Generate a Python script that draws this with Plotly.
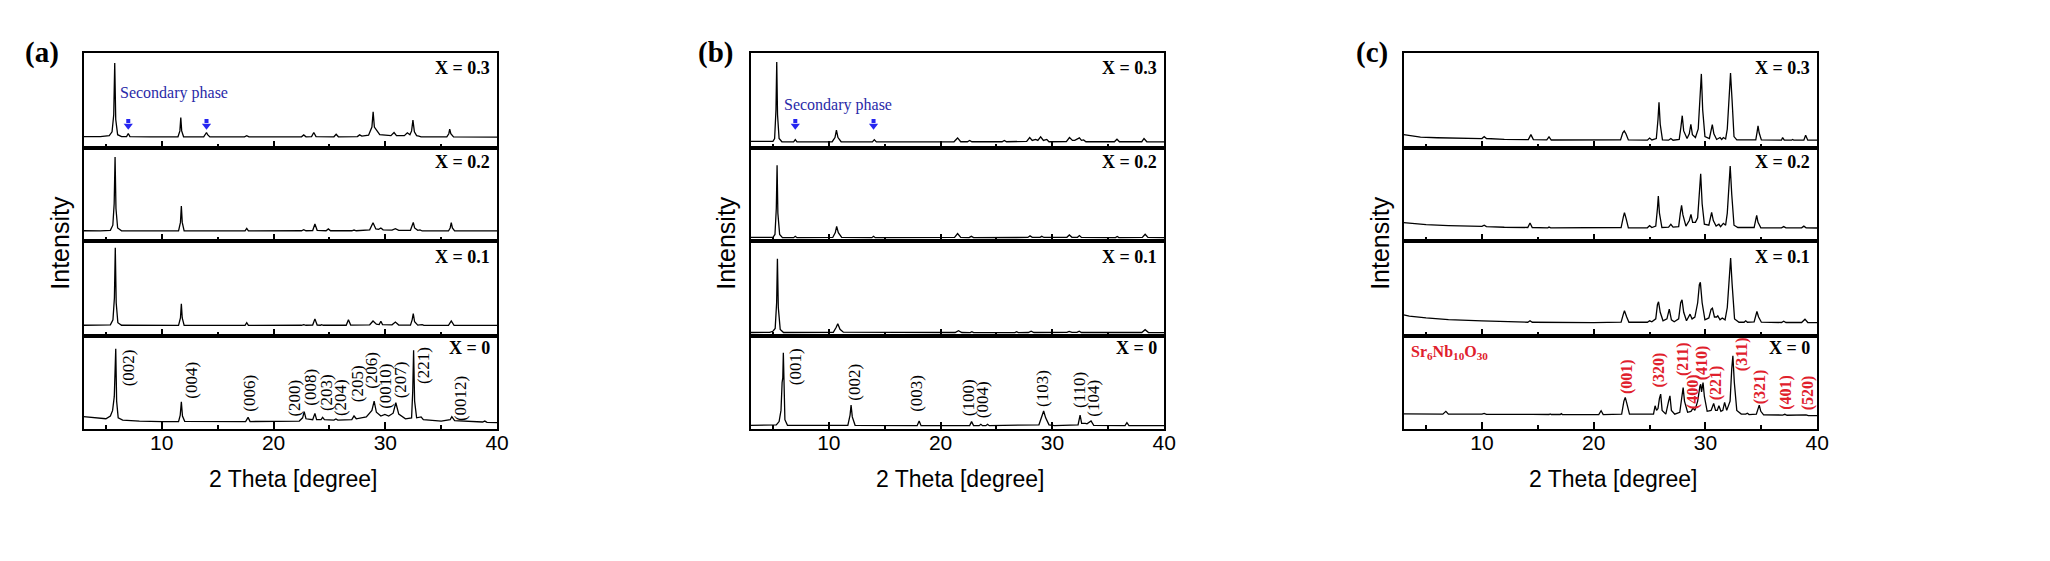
import plotly.graph_objects as go

# ---------------- data: (2 theta [deg], intensity normalised to its strip) ----------------
# panel (a)
a_x03 = [(3.0,0.12),(4.5,0.12),(5.3,0.13),(5.55,0.17),(5.7,0.35),(5.79,0.894),(5.88,0.3),(6.05,0.14),
         (6.4,0.12),(6.85,0.12),(7.0,0.152),(7.15,0.12),(9.0,0.117),(11.45,0.118),(11.62,0.18),(11.7,0.32),
         (11.78,0.18),(11.95,0.118),(13.75,0.117),(13.92,0.14),(14.0,0.163),(14.1,0.14),(14.3,0.117),
         (17.4,0.117),(17.6,0.13),(17.8,0.117),(22.5,0.118),(22.7,0.138),(22.9,0.118),(23.4,0.12),
         (23.6,0.163),(23.8,0.12),(25.4,0.118),(25.6,0.145),(25.8,0.118),(27.5,0.12),(27.7,0.138),
         (27.9,0.125),(28.5,0.135),(28.8,0.22),(28.91,0.38),(29.02,0.22),(29.3,0.17),(29.5,0.14),
         (30.5,0.13),(30.78,0.163),(31.0,0.13),(31.7,0.13),(31.97,0.16),(32.2,0.14),(32.35,0.18),
         (32.47,0.293),(32.6,0.17),(32.8,0.13),(33.0,0.125),(33.2,0.118),(35.5,0.117),(35.68,0.15),
         (35.76,0.198),(35.86,0.15),(36.1,0.117),(40.0,0.115)]
a_x02 = [(3.0,0.11),(4.5,0.108),(5.4,0.115),(5.62,0.17),(5.74,0.4),(5.82,0.903),(5.9,0.35),(6.05,0.14),
         (6.4,0.11),(11.5,0.108),(11.67,0.2),(11.75,0.376),(11.83,0.2),(12.0,0.108),(17.45,0.108),
         (17.6,0.136),(17.75,0.108),(22.5,0.11),(22.7,0.122),(22.9,0.11),(23.5,0.112),(23.7,0.183),
         (23.9,0.115),(24.7,0.11),(24.9,0.13),(25.1,0.11),(27.0,0.11),(27.2,0.118),(27.4,0.11),
         (28.6,0.12),(28.9,0.197),(29.15,0.13),(29.4,0.125),(29.6,0.14),(29.8,0.12),(30.6,0.118),
         (30.9,0.133),(31.2,0.115),(32.25,0.115),(32.4,0.16),(32.5,0.2),(32.62,0.14),(32.9,0.115),
         (33.1,0.12),(33.3,0.108),(35.65,0.108),(35.8,0.14),(35.9,0.197),(36.0,0.14),(36.2,0.108),
         (40.0,0.108)]
a_x01 = [(3.0,0.113),(4.5,0.112),(5.4,0.118),(5.63,0.17),(5.76,0.4),(5.84,0.93),(5.92,0.35),(6.07,0.14),
         (6.4,0.113),(11.5,0.112),(11.67,0.19),(11.75,0.34),(11.83,0.19),(12.0,0.112),(17.45,0.112),
         (17.6,0.14),(17.75,0.112),(22.5,0.113),(22.7,0.12),(22.9,0.113),(23.5,0.115),(23.7,0.18),
         (23.9,0.115),(24.2,0.113),(24.3,0.12),(24.45,0.113),(26.5,0.113),(26.7,0.17),(26.9,0.115),
         (28.6,0.118),(28.9,0.158),(29.2,0.125),(29.45,0.12),(29.6,0.155),(29.75,0.12),(30.6,0.118),
         (30.9,0.147),(31.2,0.115),(32.25,0.115),(32.4,0.17),(32.5,0.235),(32.62,0.15),(32.9,0.115),
         (33.3,0.12),(33.45,0.112),(35.65,0.112),(35.9,0.158),(36.15,0.112),(40.0,0.112)]
a_x00 = [(3.0,0.132),(4.0,0.12),(5.0,0.11),(5.4,0.14),(5.6,0.2),(5.75,0.35),(5.88,0.864),(5.96,0.3),
         (6.1,0.12),(6.5,0.095),(8.0,0.085),(10.0,0.08),(11.5,0.08),(11.65,0.15),(11.75,0.293),
         (11.85,0.14),(12.05,0.082),(17.5,0.08),(17.72,0.125),(17.9,0.08),(22.3,0.085),(22.6,0.12),
         (22.74,0.186),(22.9,0.11),(23.5,0.1),(23.7,0.168),(23.85,0.1),(24.25,0.1),(24.39,0.125),
         (24.55,0.1),(25.4,0.095),(25.58,0.107),(25.75,0.095),(27.0,0.1),(27.2,0.14),(27.4,0.11),
         (28.3,0.13),(28.8,0.2),(29.0,0.3),(29.2,0.18),(29.6,0.14),(29.96,0.157),(30.3,0.14),
         (30.7,0.17),(30.94,0.282),(31.2,0.16),(31.8,0.11),(32.35,0.12),(32.45,0.4),(32.53,0.846),
         (32.62,0.3),(32.8,0.12),(33.2,0.13),(33.4,0.1),(35.0,0.085),(35.8,0.1),(35.95,0.132),
         (36.2,0.09),(38.7,0.075),(38.9,0.085),(39.1,0.072),(40.0,0.068)]
# panel (b)
b_x03 = [(3.0,0.07),(4.5,0.066),(5.0,0.07),(5.15,0.1),(5.27,0.4),(5.34,0.905),(5.41,0.35),(5.55,0.1),
         (5.8,0.066),(6.85,0.064),(7.0,0.088),(7.15,0.064),(10.3,0.066),(10.55,0.11),(10.68,0.187),
         (10.82,0.11),(11.1,0.066),(13.9,0.064),(14.07,0.088),(14.25,0.064),(21.2,0.066),(21.52,0.106),
         (21.8,0.066),(22.4,0.066),(22.6,0.08),(22.8,0.066),(25.5,0.066),(25.7,0.08),(25.9,0.066),
         (27.7,0.07),(27.97,0.11),(28.2,0.08),(28.5,0.09),(28.7,0.08),(28.95,0.117),(29.2,0.08),
         (29.5,0.09),(29.7,0.066),(31.25,0.068),(31.53,0.11),(31.8,0.08),(32.0,0.08),(32.42,0.106),
         (32.6,0.08),(32.8,0.085),(33.0,0.066),(35.55,0.066),(35.78,0.092),(36.0,0.066),(38.0,0.066),
         (38.2,0.1),(38.45,0.066),(40.0,0.064)]
b_x02 = [(3.0,0.038),(5.0,0.04),(5.18,0.07),(5.3,0.35),(5.37,0.814),(5.44,0.3),(5.6,0.07),(5.85,0.036),
         (6.85,0.036),(7.0,0.05),(7.15,0.036),(10.35,0.038),(10.58,0.09),(10.7,0.158),(10.85,0.09),
         (11.15,0.038),(13.85,0.036),(14.0,0.05),(14.15,0.036),(21.25,0.038),(21.52,0.079),(21.8,0.038),
         (22.55,0.036),(22.75,0.05),(22.95,0.036),(27.8,0.038),(28.0,0.055),(28.2,0.04),(28.9,0.04),
         (29.05,0.05),(29.25,0.038),(31.3,0.04),(31.52,0.065),(31.75,0.04),(32.25,0.04),(32.42,0.058),
         (32.6,0.038),(35.65,0.036),(35.8,0.048),(35.95,0.036),(38.05,0.038),(38.3,0.072),(38.55,0.038),
         (40.0,0.036)]
b_x01 = [(3.0,0.037),(4.7,0.038),(5.0,0.05),(5.2,0.08),(5.33,0.35),(5.4,0.814),(5.48,0.3),(5.65,0.07),
         (5.95,0.037),(10.4,0.038),(10.65,0.09),(10.8,0.13),(11.0,0.07),(11.3,0.04),(21.3,0.037),
         (21.6,0.056),(21.9,0.037),(22.65,0.035),(22.8,0.045),(22.95,0.035),(26.65,0.035),(26.8,0.045),
         (26.95,0.035),(27.85,0.037),(28.1,0.05),(28.35,0.037),(31.3,0.038),(31.5,0.048),(31.75,0.038),
         (32.2,0.038),(32.4,0.05),(32.6,0.037),(38.0,0.037),(38.3,0.067),(38.6,0.037),(40.0,0.035)]
b_x00 = [(3.0,0.04),(4.5,0.04),(5.3,0.045),(5.55,0.08),(5.72,0.2),(5.82,0.5),(5.88,0.55),(5.93,0.82),
         (5.98,0.5),(6.07,0.1),(6.3,0.04),(11.7,0.04),(11.9,0.15),(11.99,0.257),(12.1,0.13),(12.35,0.04),
         (17.9,0.036),(18.08,0.086),(18.25,0.036),(22.6,0.036),(22.77,0.079),(22.95,0.036),(23.45,0.036),
         (23.6,0.05),(23.75,0.036),(24.05,0.036),(24.2,0.05),(24.35,0.036),(28.8,0.045),(29.05,0.13),
         (29.22,0.193),(29.4,0.12),(29.7,0.045),(30.2,0.036),(32.3,0.045),(32.48,0.15),(32.62,0.06),
         (32.95,0.06),(33.1,0.055),(33.46,0.086),(33.7,0.04),(36.5,0.036),(36.67,0.068),(36.85,0.036),
         (40.0,0.036)]
# panel (c)
c_x03 = [(3.0,0.141),(3.5,0.13),(4.5,0.115),(6.0,0.108),(8.0,0.103),(10.0,0.099),(10.2,0.12),(10.4,0.1),
         (12.0,0.09),(14.15,0.088),(14.38,0.141),(14.6,0.088),(15.8,0.085),(16.0,0.117),(16.2,0.084),
         (20.0,0.082),(22.4,0.085),(22.6,0.16),(22.73,0.18),(22.88,0.15),(23.1,0.085),(24.8,0.082),
         (25.0,0.105),(25.2,0.085),(25.6,0.1),(25.75,0.3),(25.84,0.48),(25.95,0.25),(26.15,0.085),
         (26.7,0.082),(26.9,0.1),(27.1,0.082),(27.65,0.09),(27.8,0.22),(27.92,0.34),(28.05,0.18),
         (28.35,0.1),(28.55,0.15),(28.69,0.25),(28.83,0.14),(29.1,0.11),(29.35,0.2),(29.5,0.5),
         (29.63,0.78),(29.75,0.4),(29.95,0.12),(30.35,0.1),(30.5,0.2),(30.61,0.247),(30.75,0.15),
         (31.0,0.09),(31.3,0.11),(31.45,0.09),(31.6,0.11),(31.8,0.095),(31.95,0.2),(32.1,0.55),
         (32.24,0.788),(32.38,0.5),(32.55,0.12),(32.8,0.085),(34.5,0.085),(34.62,0.17),(34.7,0.233),
         (34.8,0.16),(35.0,0.085),(36.8,0.082),(36.9,0.11),(37.05,0.082),(37.7,0.082),(37.8,0.09),
         (37.9,0.082),(38.8,0.082),(38.96,0.134),(39.15,0.082),(40.0,0.082)]
c_x02 = [(3.0,0.197),(3.5,0.19),(5.0,0.175),(7.0,0.165),(10.0,0.158),(10.2,0.17),(10.4,0.155),(12.0,0.148),
         (14.1,0.145),(14.3,0.194),(14.5,0.145),(15.9,0.142),(16.0,0.15),(16.15,0.142),(20.0,0.14),
         (22.45,0.145),(22.65,0.26),(22.75,0.305),(22.9,0.24),(23.1,0.142),(24.8,0.142),(25.0,0.165),
         (25.2,0.145),(25.55,0.16),(25.7,0.35),(25.78,0.484),(25.88,0.3),(26.1,0.145),(26.7,0.15),
         (26.9,0.18),(27.1,0.15),(27.6,0.155),(27.75,0.3),(27.86,0.384),(27.98,0.28),(28.25,0.16),
         (28.55,0.22),(28.7,0.287),(28.85,0.2),(29.1,0.2),(29.3,0.25),(29.45,0.5),(29.57,0.724),
         (29.7,0.4),(29.9,0.18),(30.3,0.17),(30.45,0.27),(30.55,0.308),(30.7,0.22),(30.95,0.16),
         (31.2,0.18),(31.35,0.155),(31.6,0.19),(31.8,0.17),(31.95,0.3),(32.1,0.6),(32.21,0.806),
         (32.35,0.5),(32.55,0.17),(32.9,0.145),(34.35,0.145),(34.5,0.23),(34.58,0.276),(34.7,0.2),
         (34.95,0.142),(36.8,0.142),(37.0,0.155),(37.2,0.142),(38.6,0.142),(38.8,0.16),(39.0,0.142),
         (40.0,0.14)]
c_x01 = [(3.0,0.223),(3.5,0.21),(5.0,0.19),(7.0,0.172),(10.0,0.159),(12.0,0.15),(14.1,0.145),(14.3,0.16),
         (14.5,0.145),(20.0,0.141),(22.45,0.145),(22.65,0.23),(22.75,0.265),(22.95,0.2),(23.15,0.145),
         (24.8,0.145),(25.0,0.16),(25.2,0.15),(25.55,0.18),(25.7,0.33),(25.8,0.36),(25.95,0.25),
         (26.2,0.16),(26.55,0.18),(26.76,0.283),(26.95,0.17),(27.2,0.15),(27.6,0.18),(27.78,0.35),
         (27.9,0.38),(28.05,0.25),(28.3,0.16),(28.5,0.2),(28.62,0.23),(28.8,0.18),(29.05,0.2),
         (29.3,0.35),(29.45,0.54),(29.54,0.565),(29.7,0.35),(29.95,0.17),(30.3,0.19),(30.5,0.28),
         (30.62,0.293),(30.8,0.2),(31.0,0.2),(31.1,0.212),(31.3,0.17),(31.5,0.19),(31.75,0.17),
         (31.95,0.3),(32.12,0.65),(32.25,0.82),(32.38,0.55),(32.6,0.18),(33.0,0.145),(33.45,0.145),
         (33.6,0.16),(33.75,0.145),(34.35,0.148),(34.5,0.23),(34.6,0.258),(34.75,0.2),(35.0,0.145),
         (36.8,0.142),(37.0,0.155),(37.2,0.142),(38.6,0.142),(38.9,0.177),(39.15,0.142),(40.0,0.141)]
c_x00 = [(3.0,0.162),(6.5,0.16),(6.77,0.19),(7.0,0.16),(10.0,0.16),(10.2,0.168),(10.4,0.158),(14.3,0.158),
         (14.4,0.165),(14.5,0.157),(16.0,0.156),(16.1,0.162),(16.2,0.156),(17.0,0.156),(17.1,0.165),
         (17.2,0.155),(20.45,0.155),(20.66,0.196),(20.85,0.155),(22.5,0.16),(22.7,0.3),(22.82,0.34),
         (22.95,0.28),(23.2,0.16),(25.35,0.16),(25.49,0.25),(25.62,0.2),(25.75,0.22),(25.88,0.33),
         (25.99,0.375),(26.12,0.2),(26.45,0.16),(26.7,0.3),(26.82,0.357),(26.95,0.2),(27.25,0.16),
         (27.7,0.18),(27.88,0.38),(28.0,0.446),(28.12,0.3),(28.4,0.18),(28.7,0.19),(28.89,0.225),
         (29.05,0.2),(29.3,0.3),(29.5,0.46),(29.57,0.48),(29.65,0.4),(29.78,0.5),(29.9,0.35),
         (30.15,0.19),(30.5,0.2),(30.73,0.275),(30.9,0.2),(31.05,0.2),(31.2,0.25),(31.38,0.19),
         (31.55,0.2),(31.71,0.286),(31.9,0.2),(32.2,0.3),(32.35,0.65),(32.45,0.786),(32.58,0.5),
         (32.8,0.2),(33.2,0.16),(33.6,0.16),(33.75,0.17),(33.9,0.155),(34.55,0.16),(34.7,0.22),
         (34.81,0.257),(34.95,0.19),(35.2,0.152),(36.9,0.15),(37.1,0.158),(37.3,0.148),(38.8,0.145),
         (39.0,0.152),(39.2,0.143),(40.0,0.143)]

series = {'a': [a_x03, a_x02, a_x01, a_x00],
          'b': [b_x03, b_x02, b_x01, b_x00],
          'c': [c_x03, c_x02, c_x01, c_x00]}

strip_labels = ['X = 0.3', 'X = 0.2', 'X = 0.1', 'X = 0']
panel_labels = ['(a)', '(b)', '(c)']
x_ticks = [10, 20, 30, 40]

hkl_a = ['(002)', '(004)', '(006)', '(200)', '(008)', '(203)', '(204)', '(205)', '(206)', '(0010)', '(207)', '(221)', '(0012)']
hkl_a_tt = [7.1, 12.68, 17.78, 21.79, 23.33, 24.7, 25.95, 27.58, 28.7, 29.95, 31.43, 33.37, 36.78]
hkl_b = ['(001)', '(002)', '(003)', '(100)', '(004)', '(103)', '(110)', '(104)']
hkl_b_tt = [7.09, 12.23, 17.78, 22.47, 23.81, 29.16, 32.48, 33.61]
hkl_c = ['(001)', '(320)', '(211)', '(400)', '(410)', '(221)', '(311)', '(321)', '(401)', '(520)']
hkl_c_tt = [22.91, 25.87, 28.0, 28.9, 29.72, 30.97, 33.28, 34.9, 37.18, 39.2]
secondary_tt = [7.0, 14.0]

# ---------------- layout ----------------
# the page body has an 8 px margin, so the figure is made smaller and positions are shifted
OFF = 8
W, H = 2050 - 2 * OFF, 561 - 2 * OFF
SERIF = 'Liberation Serif'
SANS = 'Liberation Sans'
panel_px = [(84, 500), (755, 1171), (1412, 1828)]
row_px = [(53, 148), (148, 241), (241, 336), (336, 429)]
strip_label_y = [0.842, 0.85, 0.83, 0.87]
hkl_a_y = [0.656, 0.527, 0.387, 0.333, 0.452, 0.387, 0.333, 0.484, 0.634, 0.462, 0.527, 0.688, 0.323]
hkl_b_y = [0.667, 0.505, 0.387, 0.333, 0.312, 0.441, 0.42, 0.333]
hkl_c_y = [0.562, 0.634, 0.753, 0.398, 0.71, 0.495, 0.806, 0.452, 0.398, 0.387]


def px_x(x):
    return (x - OFF) / W


def px_y(y):
    return 1 - (y - OFF) / H


fig = go.Figure()
lay = {}
anns = []


def sfx(i):
    return '' if i == 1 else str(i)


for p, key in enumerate('abc'):
    x0, x1 = panel_px[p]
    for r in range(4):
        i = p * 4 + r + 1
        s = sfx(i)
        yt, yb = row_px[r]
        lay['xaxis' + s] = dict(
            domain=[px_x(x0), px_x(x1)], anchor='y' + s, range=[3, 40],
            showline=True, linecolor='black', linewidth=2, mirror=True,
            ticks='inside', ticklen=7, tickwidth=2, tickcolor='black',
            tickmode='array', tickvals=x_ticks, ticktext=[str(v) for v in x_ticks],
            showgrid=False, zeroline=False, showticklabels=(r == 3),
            ticklabelstandoff=-6,
            tickfont=dict(family=SANS, size=21, color='black'),
            minor=dict(ticks='inside', ticklen=4, tickwidth=2, tickcolor='black',
                       tickvals=[5, 15, 25, 35], showgrid=False))
        lay['yaxis' + s] = dict(
            domain=[px_y(yb), px_y(yt)], anchor='x' + s, range=[0, 1],
            showline=True, linecolor='black', linewidth=2, mirror=True,
            ticks='', showticklabels=False, showgrid=False, zeroline=False)
        tt, it = zip(*series[key][r])
        fig.add_trace(go.Scatter(x=list(tt), y=list(it), xaxis='x' + s, yaxis='y' + s,
                                 mode='lines', line=dict(color='black', width=1.3),
                                 hoverinfo='skip', showlegend=False))
        anns.append(dict(xref='x' + s, yref='y' + s, x=39.5, y=strip_label_y[r],
                         text='<b>' + strip_labels[r] + '</b>', showarrow=False,
                         xanchor='right', yanchor='middle',
                         font=dict(family=SERIF, size=18, color='black')))
    cx = (x0 + x1) / 2
    anns.append(dict(xref='paper', yref='paper', x=px_x(cx + 3), y=px_y(479),
                     text='2 Theta [degree]', showarrow=False, xanchor='center', yanchor='middle',
                     font=dict(family=SANS, size=23, color='black')))

# y titles and panel labels
for xp, lab, lx in zip([60, 730, 1388], panel_labels, [42, 720, 1380]):
    anns.append(dict(xref='paper', yref='paper', x=px_x(xp), y=px_y(243), text='Intensity',
                     textangle=-90, showarrow=False, xanchor='center', yanchor='middle',
                     font=dict(family=SANS, size=25, color='black')))
    anns.append(dict(xref='paper', yref='paper', x=px_x(lx), y=px_y(53), text='<b>' + lab + '</b>',
                     showarrow=False, xanchor='center', yanchor='middle',
                     font=dict(family=SERIF, size=29, color='black')))

# Miller index labels
for txt, xv, yv in zip(hkl_a, hkl_a_tt, hkl_a_y):
    anns.append(dict(xref='x4', yref='y4', x=xv, y=yv, text=txt, textangle=-90, showarrow=False,
                     xanchor='center', yanchor='middle', font=dict(family=SERIF, size=17, color='black')))
for txt, xv, yv in zip(hkl_b, hkl_b_tt, hkl_b_y):
    anns.append(dict(xref='x8', yref='y8', x=xv, y=yv, text=txt, textangle=-90, showarrow=False,
                     xanchor='center', yanchor='middle', font=dict(family=SERIF, size=17, color='black')))
RED = '#e0202c'
for txt, xv, yv in zip(hkl_c, hkl_c_tt, hkl_c_y):
    anns.append(dict(xref='x12', yref='y12', x=xv, y=yv, text='<b>' + txt + '</b>', textangle=-90,
                     showarrow=False, xanchor='center', yanchor='middle',
                     font=dict(family=SERIF, size=16, color=RED)))
anns.append(dict(xref='x12', yref='y12', x=3.44, y=0.828,
                 text='<b>Sr<sub>6</sub>Nb<sub>10</sub>O<sub>30</sub></b>', showarrow=False,
                 xanchor='left', yanchor='middle', font=dict(family=SERIF, size=16, color=RED)))

# secondary phase annotations
BLUE_T = '#2a2aa8'
BLUE_A = '#2525f0'
anns.append(dict(xref='x', yref='y', x=11.1, y=0.58, text='Secondary phase', showarrow=False,
                 xanchor='center', yanchor='middle', font=dict(family=SERIF, size=16, color=BLUE_T)))
anns.append(dict(xref='x5', yref='y5', x=10.84, y=0.453, text='Secondary phase', showarrow=False,
                 xanchor='center', yanchor='middle', font=dict(family=SERIF, size=16, color=BLUE_T)))
for xa, ya in [('x', 'y'), ('x5', 'y5')]:
    fig.add_trace(go.Scatter(x=secondary_tt, y=[0.285] * len(secondary_tt), xaxis=xa, yaxis=ya,
                             mode='markers', marker=dict(symbol='square', size=4, color=BLUE_A),
                             hoverinfo='skip', showlegend=False))
    fig.add_trace(go.Scatter(x=secondary_tt, y=[0.235] * len(secondary_tt), xaxis=xa, yaxis=ya,
                             mode='markers', marker=dict(symbol='triangle-down', size=8, color=BLUE_A),
                             hoverinfo='skip', showlegend=False))

fig.update_layout(width=W, height=H, autosize=False, margin=dict(l=0, r=0, t=0, b=0),
                  paper_bgcolor='white', plot_bgcolor='white', showlegend=False,
                  annotations=anns, **lay)
fig.write_html('out.html')
